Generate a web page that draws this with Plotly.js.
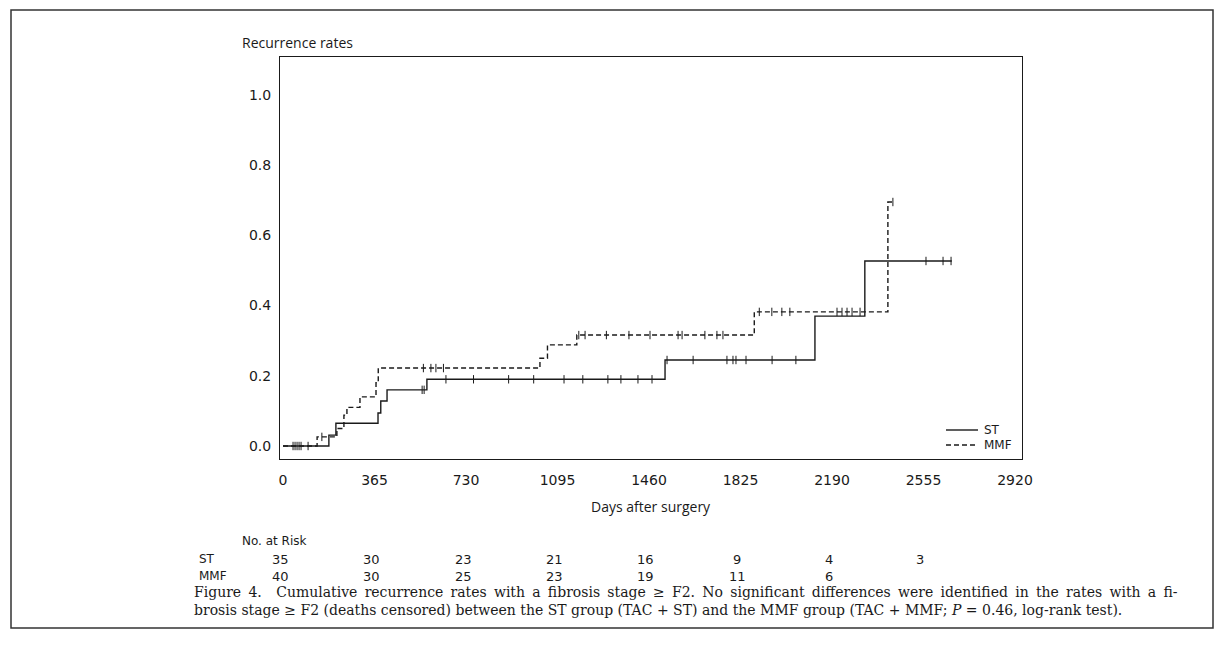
<!DOCTYPE html>
<html>
<head>
<meta charset="utf-8">
<script src="https://cdn.plot.ly/plotly-3.0.1.min.js"></script>
<style>
  html, body { margin: 0; padding: 0; background: #fff; }
  #chart { width: 1225px; height: 659px; }
</style>
</head>
<body>
<div id="chart"></div>
<script>
// ---------- data ----------
const stTimes  = [0, 183, 211, 379, 390, 415, 574, 1524, 2122, 2321, 2668];
const stRates  = [0, 0.031, 0.065, 0.094, 0.128, 0.16, 0.19, 0.245, 0.37, 0.527, 0.527];
const mmfTimes = [0, 136, 215, 243, 255, 307, 371, 380, 1025, 1055, 1172, 1880, 2413, 2433];
const mmfRates = [0, 0.026, 0.05, 0.088, 0.11, 0.14, 0.18, 0.222, 0.25, 0.288, 0.316, 0.382, 0.695, 0.695];

const stCensor  = [56, 64, 72, 100, 555, 563, 650, 760, 900, 1000, 1121, 1196, 1296, 1348, 1416, 1472,
                   1532, 1636, 1771, 1795, 1807, 1847, 1951, 2046, 2565, 2633, 2665];
const mmfCensor = [40, 48, 155, 560, 590, 610, 640, 1180, 1205, 1290, 1380, 1464, 1576, 1592, 1683,
                   1731, 1755, 1900, 1950, 1990, 2022, 2210, 2230, 2250, 2270, 2302, 2433];

const xTicks = [0, 365, 730, 1095, 1460, 1825, 2190, 2555, 2920];
const yTicks = [0, 0.2, 0.4, 0.6, 0.8, 1.0];

const groups   = ['ST', 'MMF'];
const riskDays = [0, 365, 730, 1095, 1460, 1825, 2190, 2555];
const riskST   = [35, 30, 23, 21, 16, 9, 4, 3];
const riskMMF  = [40, 30, 25, 23, 19, 11, 6];

const captionLine1 = 'Figure 4.  Cumulative recurrence rates with a fibrosis stage ≥ F2. No significant differences were identified in the rates with a fi-';
const captionLine2 = 'brosis stage ≥ F2 (deaths censored) between the ST group (TAC + ST) and the MMF group (TAC + MMF; <i>P</i> = 0.46, log-rank test).';

// ---------- helpers ----------
function stepValue(times, rates, t) {
  let v = rates[0];
  for (let i = 0; i < times.length; i++) { if (times[i] <= t) v = rates[i]; }
  return v;
}
const ink = '#1a1a1a';
const tickFont = { family: 'DejaVu Sans', size: 14, color: ink };
const mmfDash = '5px,3px';

const traces = [
  { x: stTimes, y: stRates, type: 'scatter', mode: 'lines', name: groups[0],
    line: { shape: 'hv', color: ink, width: 1.4 } },
  { x: mmfTimes, y: mmfRates, type: 'scatter', mode: 'lines', name: groups[1],
    line: { shape: 'hv', color: ink, width: 1.4, dash: mmfDash } },
  { x: stCensor, y: stCensor.map(t => stepValue(stTimes, stRates, t)), type: 'scatter', mode: 'markers',
    hoverinfo: 'skip',
    marker: { symbol: 'line-ns', size: 6, color: ink, line: { color: ink, width: 1 } } },
  { x: mmfCensor, y: mmfCensor.map(t => stepValue(mmfTimes, mmfRates, t)), type: 'scatter', mode: 'markers',
    hoverinfo: 'skip',
    marker: { symbol: 'line-ns', size: 6, color: ink, line: { color: ink, width: 1 } } }
];

// pixel -> paper helpers (plot area: x 280..1022, y 57..459)
const L = 280, R = 1022, T = 57, B = 459;
const px = v => (v - L) / (R - L);
const py = v => 1 - (v - T) / (B - T);

const annotations = [];
const shapes = [];
annotations.push({ text: 'Recurrence rates', xref: 'paper', yref: 'paper', x: px(240), y: py(42),
  xanchor: 'left', yanchor: 'middle', showarrow: false, font: { family: 'Open Sans', size: 14, color: ink } });
annotations.push({ text: 'Days after surgery', xref: 'paper', yref: 'paper', x: 0.5, y: py(506),
  xanchor: 'center', yanchor: 'middle', showarrow: false, font: { family: 'Open Sans', size: 14, color: ink } });
annotations.push({ text: 'No. at Risk', xref: 'paper', yref: 'paper', x: px(240), y: py(541),
  xanchor: 'left', yanchor: 'middle', showarrow: false, font: { family: 'DejaVu Sans', size: 12, color: ink } });
annotations.push({ text: groups[0], xref: 'paper', yref: 'paper', x: px(197), y: py(559),
  xanchor: 'left', yanchor: 'middle', showarrow: false, font: { family: 'DejaVu Sans', size: 12, color: ink } });
annotations.push({ text: groups[1], xref: 'paper', yref: 'paper', x: px(197), y: py(576),
  xanchor: 'left', yanchor: 'middle', showarrow: false, font: { family: 'DejaVu Sans', size: 12, color: ink } });
riskST.forEach((n, i) => annotations.push({ text: String(n), xref: 'x', yref: 'paper', x: riskDays[i], y: py(559),
  xanchor: 'center', yanchor: 'middle', xshift: -3, showarrow: false, font: { family: 'DejaVu Sans', size: 13, color: ink } }));
riskMMF.forEach((n, i) => annotations.push({ text: String(n), xref: 'x', yref: 'paper', x: riskDays[i], y: py(576),
  xanchor: 'center', yanchor: 'middle', xshift: -3, showarrow: false, font: { family: 'DejaVu Sans', size: 13, color: ink } }));

// legend (drawn manually for tight SAS-style spacing)
const legendRows = [430, 445];
groups.forEach((g, i) => {
  shapes.push({ type: 'line', xref: 'paper', yref: 'paper', x0: px(946), x1: px(978),
    y0: py(legendRows[i]), y1: py(legendRows[i]),
    line: { color: ink, width: 1.4, dash: i === 1 ? mmfDash : 'solid' } });
  annotations.push({ text: g, xref: 'paper', yref: 'paper', x: px(982), y: py(legendRows[i]),
    xanchor: 'left', yanchor: 'middle', showarrow: false, font: { family: 'DejaVu Sans', size: 12, color: ink } });
});

// caption: first line justified by widening word gaps with thin spaces
const capFont = { family: 'DejaVu Serif', size: 14, color: ink };
const justified1 = captionLine1.split(' ').join(' \u2009');
annotations.push({ text: justified1,
  xref: 'paper', yref: 'paper', x: px(192), y: py(592), xanchor: 'left', yanchor: 'middle', showarrow: false, font: capFont });
annotations.push({ text: captionLine2,
  xref: 'paper', yref: 'paper', x: px(192), y: py(610), xanchor: 'left', yanchor: 'middle', showarrow: false, font: capFont });

shapes.push({ type: 'rect', xref: 'paper', yref: 'paper', x0: px(11), x1: px(1213), y0: py(628), y1: py(10),
  line: { color: '#333', width: 1.5 }, fillcolor: 'rgba(0,0,0,0)' });

const layout = {
  width: 1225, height: 659,
  margin: { l: L, r: 1225 - R, t: T, b: 659 - B, pad: 0 },
  paper_bgcolor: '#fff', plot_bgcolor: '#fff',
  showlegend: false,
  xaxis: { range: [-12, 2948], tickvals: xTicks, ticktext: xTicks.map(String), ticks: '', showgrid: false,
           zeroline: false, showline: true, mirror: true, linecolor: ink, linewidth: 1,
           tickfont: tickFont, ticklabelstandoff: 8, automargin: false },
  yaxis: { range: [-0.037, 1.108], tickvals: yTicks, ticktext: yTicks.map(v => v.toFixed(1)), ticks: '',
           showgrid: false, zeroline: false, showline: true, mirror: true, linecolor: ink, linewidth: 1,
           tickfont: tickFont, ticklabelstandoff: 5, automargin: false },
  annotations: annotations,
  shapes: shapes
};

Plotly.newPlot('chart', traces, layout, { displayModeBar: false, staticPlot: true });
</script>
</body>
</html>
